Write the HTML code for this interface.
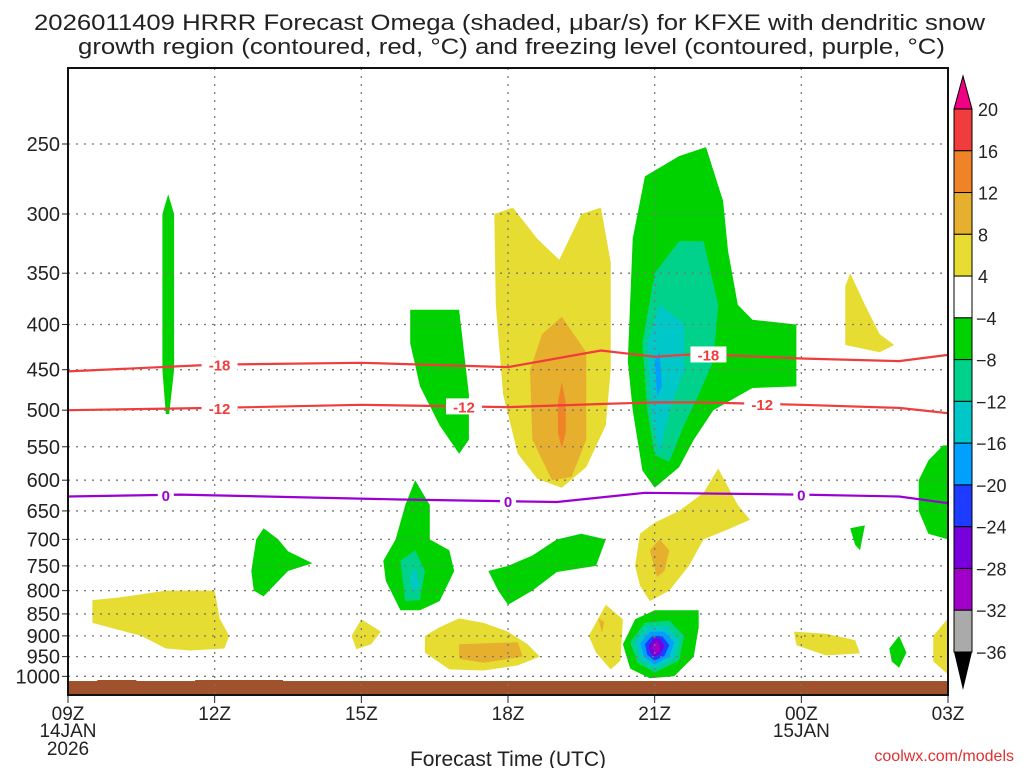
<!DOCTYPE html>
<html><head><meta charset="utf-8"><style>
body{margin:0;background:#fff;}
svg text{font-family:"Liberation Sans",sans-serif;fill:#222;}
</style></head><body>
<svg id="chart" width="1024" height="768" xmlns="http://www.w3.org/2000/svg">
<text x="34" y="30" font-size="22" textLength="951" lengthAdjust="spacingAndGlyphs">2026011409 HRRR Forecast Omega (shaded, μbar/s) for KFXE with dendritic snow</text>
<text x="78" y="54" font-size="22" textLength="867" lengthAdjust="spacingAndGlyphs">growth region (contoured, red, °C) and freezing level (contoured, purple, °C)</text>
<g id="fills"></g>
<g id="grid"></g>
<g id="lines"></g>
<g id="axes"></g>
<g id="cbar"></g>
<text x="508" y="766" font-size="21" text-anchor="middle">Forecast Time (UTC)</text>
<text x="1014" y="761" font-size="16" text-anchor="end" style="fill:#e03030">coolwx.com/models</text>
</svg>
<script>
const pressureTicks=[250,300,350,400,450,500,550,600,650,700,750,800,850,900,950,1000];
const hourTicks=[0,3,6,9,12,15,18];
const hourLabels=["09Z","12Z","15Z","18Z","21Z","00Z","03Z"];
const cbarLevels=[20,16,12,8,4,-4,-8,-12,-16,-20,-24,-28,-32,-36];
const cbarColors=["#f03c3c","#f08228","#e6af2d","#e6dc32","#ffffff","#00d200","#00d28c","#00c8c8","#00a0ff","#1e3cff","#7800dc","#a000c8","#aaaaaa"];
const G="#00d200",TE="#00d28c",CY="#00c8c8",BL="#00a0ff",DB="#1e3cff",PU="#7800dc",MA="#a000c8",Y="#e6dc32",LO="#e6af2d",OR="#f08228",RD="#f03c3c";
const regions=[
 [G,[[2.0,505],[1.93,450],[1.93,300],[2.05,285],[2.17,300],[2.17,450],[2.07,505]]],
 [G,[[7.0,385],[8.0,385],[8.2,480],[8.2,540],[8.0,560],[7.6,520],[7.2,470],[7.0,420]]],
 [Y,[[8.72,300],[9.1,295],[9.6,320],[10.05,338],[10.5,300],[10.9,295],[11.1,340],[11.1,450],[11.0,520],[10.6,580],[10.1,612],[9.6,598],[9.2,560],[8.9,480],[8.75,380]]],
 [LO,[[9.7,410],[10.1,392],[10.6,430],[10.6,540],[10.3,595],[9.9,600],[9.5,540],[9.45,450]]],
 [OR,[[10.02,490],[10.1,465],[10.18,490],[10.18,530],[10.1,552],[10.02,530]]],
 [G,[[11.45,440],[11.55,320],[11.8,272],[12.5,258],[13.05,252],[13.4,290],[13.5,330],[13.7,380],[14.0,395],[14.9,400],[14.9,470],[14.0,472],[13.2,500],[12.8,540],[12.5,580],[12.0,612],[11.75,585],[11.55,500]]],
 [TE,[[11.75,420],[12.0,350],[12.5,322],[13.0,322],[13.3,380],[13.2,440],[12.9,480],[12.6,520],[12.3,572],[12.0,562],[11.85,500]]],
 [CY,[[11.85,420],[12.1,380],[12.6,400],[12.6,450],[12.3,500],[12.1,560],[11.95,510]]],
 [BL,[[12.0,440],[12.1,430],[12.15,470],[12.05,482]]],
 [Y,[[11.6,750],[11.7,690],[12.0,670],[12.5,650],[13.0,620],[13.3,582],[13.7,640],[13.95,665],[13.5,682],[13.0,700],[12.7,750],[12.3,800],[11.9,822],[11.7,790]]],
 [LO,[[11.9,720],[12.1,700],[12.3,720],[12.2,760],[12.05,772]]],
 [Y,[[15.9,362],[16.0,350],[16.3,380],[16.6,410],[16.9,422],[16.6,430],[15.9,422]]],
 [G,[[17.4,600],[17.6,570],[17.9,548],[18,548],[18,700],[17.6,690],[17.4,650]]],
 [G,[[16.0,680],[16.3,675],[16.2,720],[16.1,710]]],
 [G,[[3.75,760],[3.85,700],[4.0,680],[4.3,700],[4.5,722],[5.0,745],[4.5,760],[4.0,812],[3.8,800]]],
 [G,[[6.7,700],[6.9,640],[7.1,600],[7.4,640],[7.4,700],[7.8,720],[7.9,760],[7.6,822],[7.2,842],[6.8,842],[6.5,780],[6.45,740]]],
 [TE,[[6.8,740],[7.1,720],[7.3,760],[7.2,820],[6.9,822]]],
 [CY,[[7.0,770],[7.1,755],[7.18,790],[7.05,805]]],
 [G,[[8.6,760],[9.0,750],[9.5,730],[10.0,700],[10.5,690],[11.0,700],[10.8,750],[10.0,762],[9.5,800],[9.0,830],[8.8,800]]],
 [Y,[[0.5,820],[1.0,815],[2.0,800],[3.0,800],[3.1,860],[3.3,900],[3.2,930],[2.5,935],[2.0,930],[1.5,900],[0.5,870]]],
 [Y,[[5.8,900],[6.0,862],[6.4,890],[6.2,920],[5.9,932]]],
 [Y,[[7.3,900],[7.6,880],[8.0,860],[8.5,870],[9.0,890],[9.4,920],[9.65,950],[9.2,972],[8.5,985],[7.8,982],[7.3,940]]],
 [LO,[[8.0,920],[9.2,915],[9.3,950],[8.5,965],[8.0,955]]],
 [Y,[[10.65,900],[11.0,830],[11.35,862],[11.3,960],[11.1,982],[10.8,940]]],
 [LO,[[10.85,860],[10.97,868],[10.92,892]]],
 [G,[[11.35,920],[11.6,862],[12.0,842],[12.9,842],[12.9,880],[12.8,950],[12.4,1000],[11.9,1005],[11.5,980]]],
 [TE,[[11.5,915],[11.8,870],[12.3,865],[12.6,900],[12.5,960],[12.0,990],[11.65,965]]],
 [CY,[[11.6,915],[11.85,880],[12.25,878],[12.5,910],[12.4,955],[12.0,980],[11.7,955]]],
 [BL,[[11.7,918],[11.9,890],[12.2,890],[12.4,915],[12.3,950],[12.0,970],[11.78,950]]],
 [DB,[[11.8,920],[11.95,900],[12.15,900],[12.3,922],[12.2,948],[12.0,960],[11.85,945]]],
 [PU,[[11.88,922],[12.0,905],[12.12,908],[12.2,925],[12.1,945],[11.98,950],[11.9,938]]],
 [MA,[[11.95,925],[12.03,912],[12.1,920],[12.1,938],[12.0,945]]],
 [Y,[[14.85,890],[15.5,895],[16.1,910],[16.2,942],[15.5,947],[14.9,922]]],
 [G,[[16.8,930],[17.0,900],[17.15,940],[17.0,978],[16.85,962]]],
 [Y,[[17.7,900],[18,860],[18,995],[17.7,962]]]
];
const lineHours=[0,3,6,9,10.9,12,12.9,15,17,18];
const minus18=[452,444,442,447,428,435,432,437,440,433];
const minus12=[500,497,493,496,492,490,490,493,497,504];
const frzHours=[0,2.3,6.8,10,11.8,15,17,18];
const zeroLine=[626,623,631,635,620,623,626,637];
const labels18=[3.1,13.1];const labels12=[3.1,8.1,14.2];const labels0=[2.0,9.0,15.0];

const X0=68,X1=948,Y0=68,Y1=695;
const xs=h=>X0+h*(X1-X0)/18;
const ys=p=>144+384*Math.log(p/250);
const NS="http://www.w3.org/2000/svg";
function mk(tag,attrs,parent){const e=document.createElementNS(NS,tag);for(const k in attrs)e.setAttribute(k,attrs[k]);parent.appendChild(e);return e;}
const fills=document.getElementById('fills'),grid=document.getElementById('grid'),lines=document.getElementById('lines'),axes=document.getElementById('axes'),cbar=document.getElementById('cbar');
regions.forEach((r,i)=>{
 const pts=r[1].map(q=>xs(q[0]).toFixed(1)+','+ys(Math.min(q[1],1010)).toFixed(1)).join(' ');
 const e=mk('polygon',{points:pts,fill:r[0]},fills);
 
 
});
const gnd=mk('path',{d:`M${X0},${Y1} L${X0},681 L${xs(0.6)},681 L${xs(0.6)},680 L${xs(1.4)},680 L${xs(1.4)},681 L${xs(2.6)},681 L${xs(2.6)},680 L${xs(4.4)},680 L${xs(4.4)},681 L${X1},681 L${X1},${Y1} Z`,fill:'#a0522d'},fills);


pressureTicks.forEach(p=>{
 const y=ys(p);
 const l=mk('line',{x1:X0,x2:X1,y1:y,y2:y,stroke:'#777','stroke-dasharray':'2,6','stroke-width':1.3},grid);
 
 
 mk('line',{x1:X0-6,x2:X0,y1:y,y2:y,stroke:'#222'},axes);
 const t=mk('text',{x:X0-8,y:y+7,'font-size':20,'text-anchor':'end'},axes);t.textContent=p;
 
 
});
hourTicks.forEach((h,i)=>{
 const x=xs(h);
 if(i>0&&i<hourTicks.length-1){const l=mk('line',{x1:x,x2:x,y1:Y0,y2:Y1,stroke:'#777','stroke-dasharray':'2,6','stroke-width':1.3},grid);
 
 }
 mk('line',{x1:x,x2:x,y1:Y1,y2:Y1+8,stroke:'#222'},axes);
 const t=mk('text',{x:x,y:Y1+25,'font-size':19,'text-anchor':'middle'},axes);t.textContent=hourLabels[i];
 
 
});
[['14JAN',xs(0),737],['2026',xs(0),755],['15JAN',xs(15),737]].forEach(a=>{const t=mk('text',{x:a[1],y:a[2],'font-size':19,'text-anchor':'middle'},axes);t.textContent=a[0];
 
 });
const frame=mk('rect',{x:X0,y:Y0,width:X1-X0,height:Y1-Y0,fill:'none',stroke:'#111','stroke-width':2},axes);


function interp(hs,vs,h){for(let i=0;i<hs.length-1;i++){if(h<=hs[i+1]){const f=(h-hs[i])/(hs[i+1]-hs[i]);return vs[i]+f*(vs[i+1]-vs[i]);}}return vs[vs.length-1];}
function cline(hs,vs,color,name,labs,txt){
 const d=hs.map((h,i)=>(i?'L':'M')+xs(h).toFixed(1)+','+ys(vs[i]).toFixed(1)).join(' ');
 const e=mk('path',{d:d,fill:'none',stroke:color,'stroke-width':2.2},lines);
 
 
 labs.forEach(h=>{const x=xs(h),y=ys(interp(hs,vs,h));
  mk('rect',{x:x-txt.length*5-3,y:y-8,width:txt.length*10+6,height:16,fill:'#fff'},lines);
  const t=mk('text',{x:x,y:y+6,'font-size':15,'font-weight':'bold','text-anchor':'middle',style:'fill:'+color},lines);t.textContent=txt;
  
  });
}
cline(lineHours,minus18,'#f03c3c','minus18-contour',labels18,'-18');
cline(lineHours,minus12,'#f03c3c','minus12-contour',labels12,'-12');
cline(frzHours,zeroLine,'#9b00d2','freezing-level-contour',labels0,'0');
const CX=954,CW=18,CT=109,CH=(652-109)/13;
const up=mk('polygon',{points:`${CX},${CT} ${CX+CW},${CT} ${CX+CW/2},76`,fill:'#f00082',stroke:'#000'},cbar);


cbarColors.forEach((c,i)=>{const r=mk('rect',{x:CX,y:CT+i*CH,width:CW,height:CH,fill:c,stroke:'#000','stroke-width':1},cbar);
 
 });
const dn=mk('polygon',{points:`${CX},652 ${CX+CW},652 ${CX+CW/2},690`,fill:'#000'},cbar);


cbarLevels.forEach((v,i)=>{const t=mk('text',{x:v<0?976:978,y:CT+i*CH+7,'font-size':18},cbar);t.textContent=v<0?'−'+(-v):v;
 
 });
</script>
</body></html>
